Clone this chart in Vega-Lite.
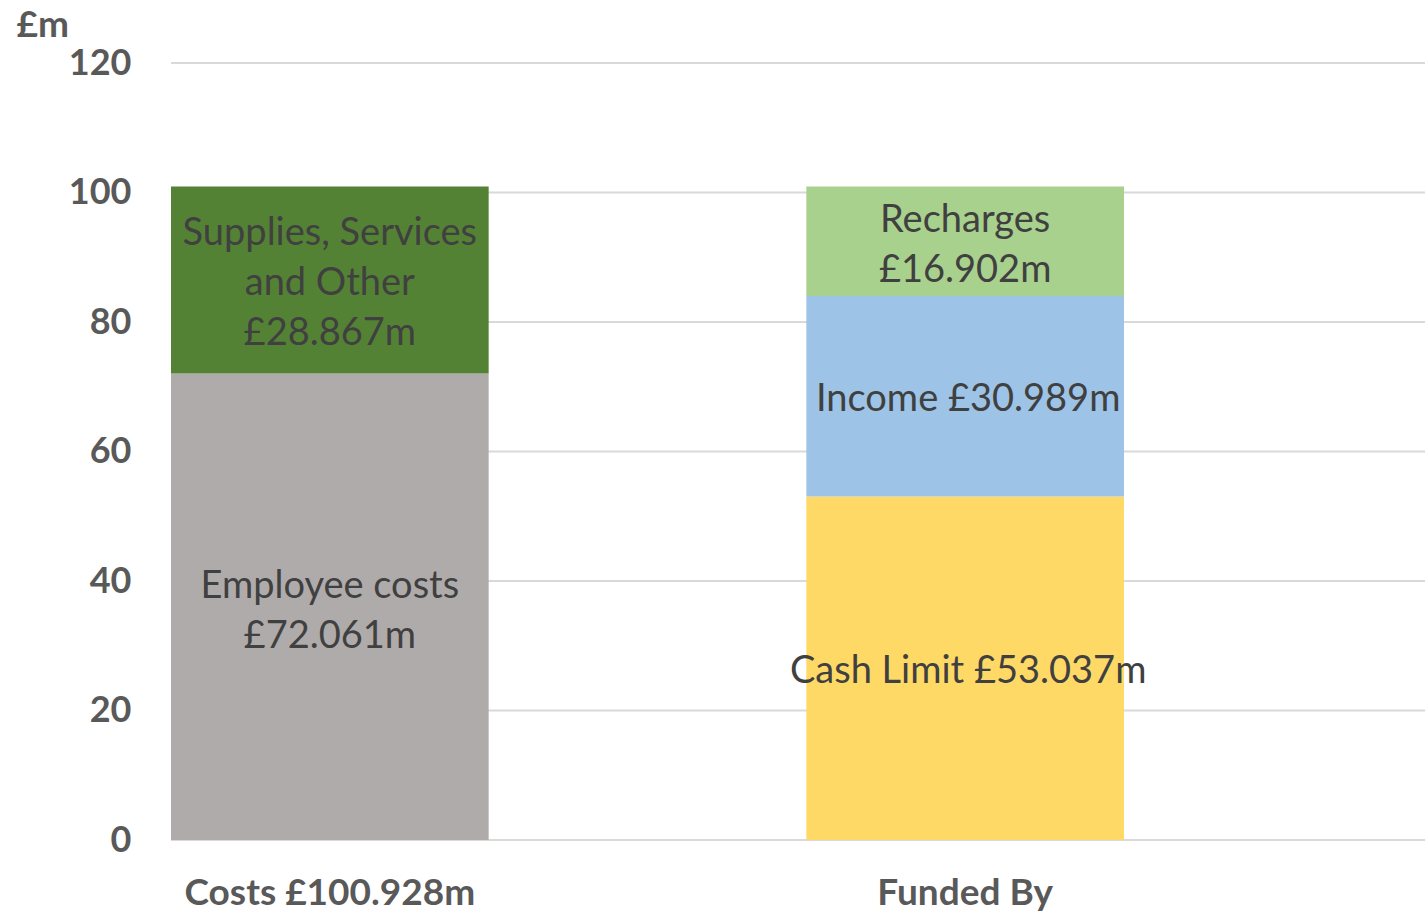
{
  "$schema": "https://vega.github.io/schema/vega-lite/v6.json",
  "autosize": {"type": "none"},
  "padding": {"left": 171, "top": 63, "right": 0, "bottom": 74},
  "width": 1254,
  "height": 777,
  "background": "#ffffff",
  "config": {"view": {"stroke": null}},
  "datasets": {
    "segments": [
      {"category": "Costs £100.928m", "segment": "Employee costs", "value": 72.061, "order": 1, "label": ["Employee costs", "£72.061m"]},
      {"category": "Costs £100.928m", "segment": "Supplies, Services and Other", "value": 28.867, "order": 2, "label": ["Supplies, Services", "and Other", "£28.867m"]},
      {"category": "Funded By", "segment": "Cash Limit", "value": 53.037, "order": 1, "label": ["Cash Limit £53.037m"]},
      {"category": "Funded By", "segment": "Income", "value": 30.989, "order": 2, "label": ["Income £30.989m"]},
      {"category": "Funded By", "segment": "Recharges", "value": 16.902, "order": 3, "label": ["Recharges", "£16.902m"]}
    ],
    "grid": [{"g": 0}, {"g": 20}, {"g": 40}, {"g": 60}, {"g": 80}, {"g": 100}, {"g": 120}]
  },
  "layer": [
    {
      "data": {"name": "grid"},
      "mark": {"type": "rule", "color": "#D9D9D9", "strokeWidth": 2},
      "encoding": {
        "y": {"field": "g", "type": "quantitative"}
      }
    },
    {
      "data": {"name": "segments"},
      "transform": [
        {"stack": "value", "groupby": ["category"], "sort": [{"field": "order", "order": "ascending"}], "as": ["y0", "y1"]}
      ],
      "mark": {"type": "bar"},
      "encoding": {
        "x": {
          "field": "category",
          "type": "nominal",
          "sort": null,
          "scale": {"range": [0, 953], "paddingInner": 0.5, "paddingOuter": 0},
          "axis": {
            "title": null,
            "domain": false,
            "ticks": false,
            "labelAngle": 0,
            "labelLimit": 0,
            "labelFont": "Lato",
            "labelFontWeight": "bold",
            "labelFontSize": 37,
            "labelColor": "#595959",
            "labelPadding": 35
          }
        },
        "y": {
          "field": "y0",
          "type": "quantitative",
          "scale": {"domain": [0, 120]},
          "axis": {
            "values": [0, 20, 40, 60, 80, 100, 120],
            "title": "£m",
            "titleAngle": 0,
            "titleAlign": "left",
            "titleBaseline": "alphabetic",
            "titleX": -155,
            "titleY": -27,
            "titleFont": "Lato",
            "titleFontWeight": "bold",
            "titleFontSize": 37,
            "titleColor": "#595959",
            "domain": false,
            "ticks": false,
            "grid": false,
            "labelFont": "Lato",
            "labelFontWeight": "bold",
            "labelFontSize": 36,
            "labelColor": "#595959",
            "labelPadding": 40
          }
        },
        "y2": {"field": "y1"},
        "color": {
          "field": "segment",
          "type": "nominal",
          "scale": {
            "domain": ["Employee costs", "Supplies, Services and Other", "Cash Limit", "Income", "Recharges"],
            "range": ["#AFABAB", "#548235", "#FFD966", "#9DC3E6", "#A9D18E"]
          },
          "legend": null
        }
      }
    },
    {
      "data": {"name": "segments"},
      "transform": [
        {"stack": "value", "groupby": ["category"], "sort": [{"field": "order", "order": "ascending"}], "as": ["y0", "y1"]},
        {"calculate": "(datum.y0 + datum.y1) / 2", "as": "mid"},
        {"filter": "length(datum.label) == 3"}
      ],
      "mark": {"type": "text", "font": "Lato", "fontSize": 38, "color": "#404040", "baseline": "middle", "align": "center", "lineHeight": 50, "dy": -46},
      "encoding": {
        "x": {"field": "category", "type": "nominal", "sort": null},
        "y": {"field": "mid", "type": "quantitative"},
        "text": {"field": "label"}
      }
    },
    {
      "data": {"name": "segments"},
      "transform": [
        {"stack": "value", "groupby": ["category"], "sort": [{"field": "order", "order": "ascending"}], "as": ["y0", "y1"]},
        {"calculate": "(datum.y0 + datum.y1) / 2", "as": "mid"},
        {"filter": "length(datum.label) == 2"}
      ],
      "mark": {"type": "text", "font": "Lato", "fontSize": 38, "color": "#404040", "baseline": "middle", "align": "center", "lineHeight": 50, "dy": -20},
      "encoding": {
        "x": {"field": "category", "type": "nominal", "sort": null},
        "y": {"field": "mid", "type": "quantitative"},
        "text": {"field": "label"}
      }
    },
    {
      "data": {"name": "segments"},
      "transform": [
        {"stack": "value", "groupby": ["category"], "sort": [{"field": "order", "order": "ascending"}], "as": ["y0", "y1"]},
        {"calculate": "(datum.y0 + datum.y1) / 2", "as": "mid"},
        {"filter": "length(datum.label) == 1"}
      ],
      "mark": {"type": "text", "font": "Lato", "fontSize": 38, "color": "#404040", "baseline": "middle", "align": "center", "lineHeight": 50, "dx": 3, "dy": 4},
      "encoding": {
        "x": {"field": "category", "type": "nominal", "sort": null},
        "y": {"field": "mid", "type": "quantitative"},
        "text": {"field": "label"}
      }
    }
  ]
}
